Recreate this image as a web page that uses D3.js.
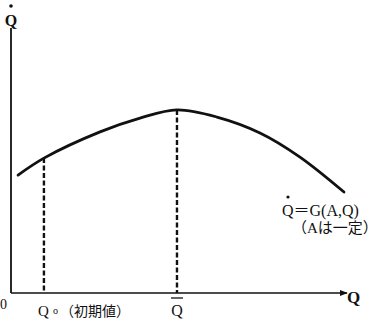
<!DOCTYPE html>
<html>
<head>
<meta charset="utf-8">
<script src="https://cdn.jsdelivr.net/npm/d3@7"></script>
<style>
  body { margin: 0; background: #fff; }
  text { font-family: "Liberation Serif", "DejaVu Serif", "Noto Sans CJK JP", serif; fill: #111; }
</style>
</head>
<body>
<svg id="plot" width="380" height="323"></svg>
<script>
// curve Qdot = G(A,Q) (arbitrary units 0..100)
var qValues = [2.1, 9.8, 26.5, 38.4, 49.4, 61.3, 74.1, 86.0, 99.1];
var gValues = [44.5, 50.9, 60.8, 66.0, 69.1, 66.4, 60.4, 51.3, 38.1];
var markQ = [9.8, 49.4]; // Q0 (initial value), Q bar
var markG = [50.9, 69.1];

var svg = d3.select("#plot"),
  margin = {top: 28, right: 33, bottom: 30, left: 11},
  width = +svg.attr("width") - margin.left - margin.right,
  height = +svg.attr("height") - margin.top - margin.bottom,
  g = svg.append("g").attr("transform", "translate(" + margin.left + "," + margin.top + ")");

var x = d3.scaleLinear().domain([0, 100]).range([0, width]);
var y = d3.scaleLinear().domain([0, 100]).range([height, 0]);

svg.append("defs").append("marker")
  .attr("id", "arrow")
  .attr("viewBox", "0 0 10 10")
  .attr("refX", 9).attr("refY", 5)
  .attr("markerWidth", 5).attr("markerHeight", 5)
  .attr("orient", "auto")
  .append("path")
  .attr("d", "M0,1L10,5L0,9Z")
  .attr("fill", "#111");

// axes
g.append("line")
  .attr("x1", x(0)).attr("y1", y(0))
  .attr("x2", x(0)).attr("y2", 0)
  .attr("stroke", "#111").attr("stroke-width", 1.8);

g.append("line")
  .attr("x1", x(0)).attr("y1", y(0))
  .attr("x2", x(100)).attr("y2", y(0))
  .attr("stroke", "#111").attr("stroke-width", 1.6)
  .attr("marker-end", "url(#arrow)");

// dashed guides
g.selectAll(".guide")
  .data(markQ)
  .enter().append("line")
  .attr("class", "guide")
  .attr("x1", function (d) { return x(d); })
  .attr("x2", function (d) { return x(d); })
  .attr("y1", function (d, i) { return y(markG[i]); })
  .attr("y2", y(0))
  .attr("stroke", "#111")
  .attr("stroke-width", 2.4)
  .attr("stroke-dasharray", "5,2.5");

// the curve
var pts = qValues.map(function (q, i) { return [q, gValues[i]]; });
var line = d3.line()
  .x(function (d) { return x(d[0]); })
  .y(function (d) { return y(d[1]); })
  .curve(d3.curveCatmullRom);

g.append("path")
  .datum(pts)
  .attr("d", line)
  .attr("fill", "none")
  .attr("stroke", "#111")
  .attr("stroke-width", 2.8)
  .attr("stroke-linecap", "round");

// labels
svg.append("text").attr("x", 11).attr("y", 26)
  .attr("text-anchor", "middle")
  .style("font-size", "16px").style("font-weight", "bold").text("Q");
svg.append("circle").attr("cx", 11).attr("cy", 6).attr("r", 1.8).attr("fill", "#111");

svg.append("text").attr("x", 347).attr("y", 303)
  .style("font-size", "17px").style("font-weight", "bold").text("Q");

svg.append("text").attr("x", 0).attr("y", 309)
  .style("font-size", "14px").text("0");

svg.append("text").attr("x", margin.left + x(markQ[0]) - 6).attr("y", 316)
  .style("font-size", "15px").text("Q");
svg.append("text").attr("x", 53).attr("y", 314)
  .style("font-size", "10px").text("o");
svg.append("text").attr("x", 60).attr("y", 316)
  .style("font-size", "14px").text("（初期値）");

svg.append("text").attr("x", margin.left + x(markQ[1])).attr("y", 316)
  .attr("text-anchor", "middle")
  .style("font-size", "16px").text("Q");
svg.append("line")
  .attr("x1", margin.left + x(markQ[1]) - 6).attr("x2", margin.left + x(markQ[1]) + 6)
  .attr("y1", 298).attr("y2", 298)
  .attr("stroke", "#111").attr("stroke-width", 1.3);

svg.append("text").attr("x", 282).attr("y", 216)
  .style("font-size", "16px").text("Q＝G(A,Q)");
svg.append("circle").attr("cx", 288).attr("cy", 197).attr("r", 1.6).attr("fill", "#111");

svg.append("text").attr("x", 292).attr("y", 233)
  .style("font-size", "15px").text("（Aは一定）");
</script>
</body>
</html>
